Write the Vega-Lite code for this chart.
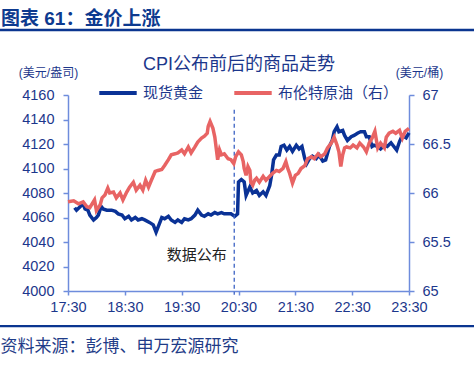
{
  "$schema": "https://vega.github.io/schema/vega-lite/v6.json",
  "width": 341,
  "height": 196,
  "autosize": {"type": "none"},
  "padding": {"left": 68, "top": 95, "right": 65, "bottom": 74},
  "background": "white",
  "config": {
    "view": {"stroke": null},
    "font": "Liberation Sans, Noto Sans CJK SC",
    "axis": {"grid": false}
  },
  "title": {
    "text": "图表 61：金价上涨",
    "anchor": "start",
    "frame": "group",
    "dx": -67,
    "dy": 2,
    "offset": 2,
    "fontSize": 19,
    "fontWeight": "bold",
    "color": "#0d3a8f",
    "font": "Liberation Sans, Noto Sans CJK SC"
  },
  "datasets": {
    "gold": [
      {"time": "17:37", "price": 4068}, {"time": "17:39", "price": 4066}, {"time": "17:43", "price": 4069}, {"time": "17:46", "price": 4071},
      {"time": "17:48", "price": 4067}, {"time": "17:51", "price": 4066}, {"time": "17:53", "price": 4062}, {"time": "17:57", "price": 4058},
      {"time": "18:00", "price": 4060}, {"time": "18:02", "price": 4062}, {"time": "18:05", "price": 4069}, {"time": "18:07", "price": 4067},
      {"time": "18:11", "price": 4066}, {"time": "18:16", "price": 4066}, {"time": "18:20", "price": 4065}, {"time": "18:23", "price": 4063},
      {"time": "18:27", "price": 4062}, {"time": "18:30", "price": 4059}, {"time": "18:34", "price": 4061}, {"time": "18:37", "price": 4058},
      {"time": "18:41", "price": 4060}, {"time": "18:44", "price": 4058}, {"time": "18:48", "price": 4059}, {"time": "18:51", "price": 4058},
      {"time": "18:56", "price": 4056}, {"time": "19:00", "price": 4054}, {"time": "19:03", "price": 4048}, {"time": "19:06", "price": 4054},
      {"time": "19:09", "price": 4060}, {"time": "19:12", "price": 4059}, {"time": "19:16", "price": 4061}, {"time": "19:19", "price": 4058},
      {"time": "19:23", "price": 4056}, {"time": "19:26", "price": 4058}, {"time": "19:30", "price": 4056}, {"time": "19:33", "price": 4059},
      {"time": "19:37", "price": 4058}, {"time": "19:40", "price": 4059}, {"time": "19:44", "price": 4062}, {"time": "19:47", "price": 4066},
      {"time": "19:51", "price": 4062}, {"time": "19:54", "price": 4061}, {"time": "19:58", "price": 4063}, {"time": "20:01", "price": 4062},
      {"time": "20:05", "price": 4064}, {"time": "20:08", "price": 4063}, {"time": "20:12", "price": 4064}, {"time": "20:15", "price": 4063},
      {"time": "20:19", "price": 4063}, {"time": "20:22", "price": 4063}, {"time": "20:26", "price": 4061}, {"time": "20:29", "price": 4063},
      {"time": "20:30", "price": 4089}, {"time": "20:33", "price": 4091}, {"time": "20:36", "price": 4089}, {"time": "20:38", "price": 4078},
      {"time": "20:42", "price": 4085}, {"time": "20:45", "price": 4080}, {"time": "20:49", "price": 4082}, {"time": "20:52", "price": 4078},
      {"time": "20:56", "price": 4081}, {"time": "20:59", "price": 4078}, {"time": "21:03", "price": 4086}, {"time": "21:05", "price": 4095},
      {"time": "21:07", "price": 4107}, {"time": "21:10", "price": 4111}, {"time": "21:13", "price": 4111}, {"time": "21:15", "price": 4118},
      {"time": "21:18", "price": 4119}, {"time": "21:21", "price": 4115}, {"time": "21:24", "price": 4118}, {"time": "21:27", "price": 4114},
      {"time": "21:31", "price": 4119}, {"time": "21:34", "price": 4116}, {"time": "21:37", "price": 4118}, {"time": "21:40", "price": 4108},
      {"time": "21:42", "price": 4104}, {"time": "21:45", "price": 4108}, {"time": "21:48", "price": 4110}, {"time": "21:52", "price": 4108},
      {"time": "21:55", "price": 4111}, {"time": "21:59", "price": 4106}, {"time": "22:02", "price": 4107}, {"time": "22:06", "price": 4118},
      {"time": "22:09", "price": 4123}, {"time": "22:11", "price": 4130}, {"time": "22:14", "price": 4134}, {"time": "22:16", "price": 4130},
      {"time": "22:20", "price": 4131}, {"time": "22:22", "price": 4127}, {"time": "22:25", "price": 4123}, {"time": "22:29", "price": 4126},
      {"time": "22:32", "price": 4127}, {"time": "22:36", "price": 4129}, {"time": "22:39", "price": 4130}, {"time": "22:43", "price": 4130},
      {"time": "22:45", "price": 4126}, {"time": "22:48", "price": 4126}, {"time": "22:51", "price": 4118}, {"time": "22:53", "price": 4119},
      {"time": "22:57", "price": 4118}, {"time": "23:00", "price": 4116}, {"time": "23:04", "price": 4119}, {"time": "23:07", "price": 4118},
      {"time": "23:11", "price": 4121}, {"time": "23:14", "price": 4118}, {"time": "23:17", "price": 4115}, {"time": "23:20", "price": 4122},
      {"time": "23:23", "price": 4127}, {"time": "23:27", "price": 4125}, {"time": "23:30", "price": 4129}
    ],
    "oil": [
      {"time": "17:30", "price": 65.91}, {"time": "17:36", "price": 65.92}, {"time": "17:41", "price": 65.89}, {"time": "17:46", "price": 65.91},
      {"time": "17:50", "price": 65.86}, {"time": "17:53", "price": 65.85}, {"time": "17:58", "price": 65.93}, {"time": "18:00", "price": 65.82},
      {"time": "18:04", "price": 65.88}, {"time": "18:06", "price": 65.95}, {"time": "18:09", "price": 65.98}, {"time": "18:12", "price": 66.05},
      {"time": "18:14", "price": 66.0}, {"time": "18:18", "price": 66.01}, {"time": "18:21", "price": 65.95}, {"time": "18:25", "price": 66.0},
      {"time": "18:28", "price": 65.93}, {"time": "18:32", "price": 66.01}, {"time": "18:35", "price": 66.06}, {"time": "18:39", "price": 66.11},
      {"time": "18:42", "price": 66.03}, {"time": "18:46", "price": 66.08}, {"time": "18:49", "price": 66.03}, {"time": "18:52", "price": 66.13},
      {"time": "18:55", "price": 66.06}, {"time": "18:58", "price": 66.13}, {"time": "19:02", "price": 66.22}, {"time": "19:05", "price": 66.23},
      {"time": "19:09", "price": 66.24}, {"time": "19:12", "price": 66.28}, {"time": "19:16", "price": 66.34}, {"time": "19:19", "price": 66.39},
      {"time": "19:23", "price": 66.4}, {"time": "19:26", "price": 66.41}, {"time": "19:30", "price": 66.44}, {"time": "19:33", "price": 66.4},
      {"time": "19:37", "price": 66.47}, {"time": "19:40", "price": 66.41}, {"time": "19:44", "price": 66.47}, {"time": "19:47", "price": 66.52},
      {"time": "19:51", "price": 66.56}, {"time": "19:54", "price": 66.58}, {"time": "19:57", "price": 66.61}, {"time": "19:58", "price": 66.68},
      {"time": "20:00", "price": 66.73}, {"time": "20:03", "price": 66.66}, {"time": "20:05", "price": 66.57}, {"time": "20:08", "price": 66.34},
      {"time": "20:10", "price": 66.44}, {"time": "20:12", "price": 66.39}, {"time": "20:15", "price": 66.4}, {"time": "20:19", "price": 66.35},
      {"time": "20:22", "price": 66.34}, {"time": "20:25", "price": 66.3}, {"time": "20:27", "price": 66.37}, {"time": "20:30", "price": 66.42},
      {"time": "20:33", "price": 66.39}, {"time": "20:35", "price": 66.32}, {"time": "20:36", "price": 66.25}, {"time": "20:38", "price": 66.18},
      {"time": "20:40", "price": 66.27}, {"time": "20:42", "price": 66.23}, {"time": "20:43", "price": 66.11}, {"time": "20:45", "price": 66.08},
      {"time": "20:47", "price": 66.13}, {"time": "20:49", "price": 66.15}, {"time": "20:52", "price": 66.11}, {"time": "20:56", "price": 66.17},
      {"time": "20:59", "price": 66.13}, {"time": "21:03", "price": 66.17}, {"time": "21:06", "price": 66.2}, {"time": "21:10", "price": 66.23},
      {"time": "21:13", "price": 66.22}, {"time": "21:17", "price": 66.25}, {"time": "21:20", "price": 66.32}, {"time": "21:22", "price": 66.25},
      {"time": "21:24", "price": 66.2}, {"time": "21:27", "price": 66.1}, {"time": "21:30", "price": 66.18}, {"time": "21:33", "price": 66.2},
      {"time": "21:36", "price": 66.25}, {"time": "21:40", "price": 66.28}, {"time": "21:43", "price": 66.35}, {"time": "21:47", "price": 66.37},
      {"time": "21:50", "price": 66.35}, {"time": "21:54", "price": 66.4}, {"time": "21:57", "price": 66.37}, {"time": "22:01", "price": 66.4},
      {"time": "22:04", "price": 66.46}, {"time": "22:08", "price": 66.51}, {"time": "22:11", "price": 66.57}, {"time": "22:14", "price": 66.49},
      {"time": "22:16", "price": 66.42}, {"time": "22:18", "price": 66.27}, {"time": "22:20", "price": 66.39}, {"time": "22:22", "price": 66.46},
      {"time": "22:24", "price": 66.47}, {"time": "22:28", "price": 66.46}, {"time": "22:31", "price": 66.49}, {"time": "22:35", "price": 66.46},
      {"time": "22:38", "price": 66.51}, {"time": "22:42", "price": 66.47}, {"time": "22:45", "price": 66.42}, {"time": "22:48", "price": 66.51},
      {"time": "22:51", "price": 66.56}, {"time": "22:54", "price": 66.63}, {"time": "22:57", "price": 66.46}, {"time": "23:00", "price": 66.51},
      {"time": "23:04", "price": 66.46}, {"time": "23:06", "price": 66.57}, {"time": "23:09", "price": 66.61}, {"time": "23:13", "price": 66.63},
      {"time": "23:16", "price": 66.61}, {"time": "23:20", "price": 66.64}, {"time": "23:23", "price": 66.56}, {"time": "23:26", "price": 66.63},
      {"time": "23:30", "price": 66.66}
    ]
  },
  "layer": [
    {
      "layer": [
        {
          "data": {"name": "gold", "format": {"parse": {"time": "date:'%H:%M'"}}},
          "mark": {"type": "line", "strokeWidth": 3.5, "clip": false},
          "encoding": {
            "x": {
              "field": "time",
              "type": "temporal",
              "scale": {"domain": [
                {"year": 1900, "month": 1, "date": 1, "hours": 17, "minutes": 30},
                {"year": 1900, "month": 1, "date": 1, "hours": 23, "minutes": 30}
              ]},
              "axis": {
                "orient": "bottom",
                "values": [
                  {"year": 1900, "month": 1, "date": 1, "hours": 17, "minutes": 30},
                  {"year": 1900, "month": 1, "date": 1, "hours": 18, "minutes": 30},
                  {"year": 1900, "month": 1, "date": 1, "hours": 19, "minutes": 30},
                  {"year": 1900, "month": 1, "date": 1, "hours": 20, "minutes": 30},
                  {"year": 1900, "month": 1, "date": 1, "hours": 21, "minutes": 30},
                  {"year": 1900, "month": 1, "date": 1, "hours": 22, "minutes": 30},
                  {"year": 1900, "month": 1, "date": 1, "hours": 23, "minutes": 30}
                ],
                "format": "%H:%M",
                "labelFlush": false,
                "labelOverlap": false,
                "labelFontSize": 14.5,
                "labelColor": "#1c378c",
                "labelPadding": 5,
                "domainColor": "#6e8cdc",
                "domainWidth": 1.5,
                "tickColor": "#6e8cdc",
                "tickWidth": 1.5,
                "tickSize": 4,
                "title": "资料来源：彭博、申万宏源研究",
                "titleX": -68,
                "titleY": 55,
                "titleAlign": "left",
                "titleBaseline": "middle",
                "titleFontSize": 17,
                "titleFontWeight": "normal",
                "titleColor": "#1f3c88"
              }
            },
            "y": {
              "field": "price",
              "type": "quantitative",
              "scale": {"domain": [4000, 4160]},
              "axis": {
                "orient": "left",
                "values": [4000, 4020, 4040, 4060, 4080, 4100, 4120, 4140, 4160],
                "format": "d",
                "labelOverlap": false,
                "labelFontSize": 14.5,
                "labelColor": "#1c378c",
                "labelPadding": 9,
                "domainColor": "#6e8cdc",
                "domainWidth": 1.5,
                "tickColor": "#6e8cdc",
                "tickWidth": 1.5,
                "tickSize": 5,
                "title": "(美元/盎司)",
                "titleAngle": 0,
                "titleX": -20,
                "titleY": -23,
                "titleAlign": "center",
                "titleBaseline": "middle",
                "titleFontSize": 12,
                "titleFontWeight": "normal",
                "titleColor": "#1c378c"
              }
            },
            "color": {
              "datum": "现货黄金",
              "type": "nominal",
              "scale": {"domain": ["现货黄金", "布伦特原油（右）"], "range": ["#0a3296", "#e86464"]},
              "legend": {
                "orient": "none",
                "legendX": 29,
                "legendY": -23,
                "direction": "horizontal",
                "title": null,
                "padding": 0,
                "labelFontSize": 15,
                "labelColor": "#1c378c",
                "labelOffset": 4,
                "columnPadding": 22,
                "symbolType": "stroke",
                "symbolSize": 1400,
                "symbolStrokeWidth": 4
              }
            }
          }
        },
        {
          "data": {"values": [{}]},
          "mark": {"type": "rule", "color": "#3d63c4", "strokeWidth": 1.3, "strokeDash": [4, 3], "clip": false},
          "encoding": {
            "x": {"datum": {"year": 1900, "month": 1, "date": 1, "hours": 20, "minutes": 25, "seconds": 30}, "type": "temporal"},
            "y": {
              "datum": 4148,
              "type": "quantitative",
              "axis": {
                "orient": "left",
                "values": [4000, 4020, 4040, 4060, 4080, 4100, 4120, 4140, 4160],
                "format": "d",
                "labelOverlap": false,
                "labelFontSize": 14.5,
                "labelColor": "#1c378c",
                "labelPadding": 9,
                "domainColor": "#6e8cdc",
                "domainWidth": 1.5,
                "tickColor": "#6e8cdc",
                "tickWidth": 1.5,
                "tickSize": 5,
                "title": "(美元/盎司)",
                "titleAngle": 0,
                "titleX": -20,
                "titleY": -23,
                "titleAlign": "center",
                "titleBaseline": "middle",
                "titleFontSize": 12,
                "titleFontWeight": "normal",
                "titleColor": "#1c378c"
              }
            },
            "y2": {"datum": 3997}
          }
        },
        {
          "data": {"values": [{"label": "数据公布"}]},
          "mark": {"type": "text", "fontSize": 15, "color": "#222222", "font": "Liberation Sans, Noto Sans CJK SC"},
          "encoding": {
            "x": {"datum": {"year": 1900, "month": 1, "date": 1, "hours": 19, "minutes": 46}, "type": "temporal"},
            "y": {
              "datum": 4029,
              "type": "quantitative",
              "axis": {
                "orient": "left",
                "values": [4000, 4020, 4040, 4060, 4080, 4100, 4120, 4140, 4160],
                "format": "d",
                "labelOverlap": false,
                "labelFontSize": 14.5,
                "labelColor": "#1c378c",
                "labelPadding": 9,
                "domainColor": "#6e8cdc",
                "domainWidth": 1.5,
                "tickColor": "#6e8cdc",
                "tickWidth": 1.5,
                "tickSize": 5,
                "title": "(美元/盎司)",
                "titleAngle": 0,
                "titleX": -20,
                "titleY": -23,
                "titleAlign": "center",
                "titleBaseline": "middle",
                "titleFontSize": 12,
                "titleFontWeight": "normal",
                "titleColor": "#1c378c"
              }
            },
            "text": {"field": "label"}
          }
        },
        {
          "data": {"values": [{}]},
          "mark": {"type": "rule", "color": "#0a3590", "strokeWidth": 2.6, "clip": false},
          "encoding": {
            "x": {"datum": {"year": 1900, "month": 1, "date": 1, "hours": 16, "minutes": 0}, "type": "temporal"},
            "x2": {"datum": {"year": 1900, "month": 1, "date": 2, "hours": 1, "minutes": 0}},
            "y": {
              "datum": 4213,
              "type": "quantitative",
              "axis": {
                "orient": "left",
                "values": [4000, 4020, 4040, 4060, 4080, 4100, 4120, 4140, 4160],
                "format": "d",
                "labelOverlap": false,
                "labelFontSize": 14.5,
                "labelColor": "#1c378c",
                "labelPadding": 9,
                "domainColor": "#6e8cdc",
                "domainWidth": 1.5,
                "tickColor": "#6e8cdc",
                "tickWidth": 1.5,
                "tickSize": 5,
                "title": "(美元/盎司)",
                "titleAngle": 0,
                "titleX": -20,
                "titleY": -23,
                "titleAlign": "center",
                "titleBaseline": "middle",
                "titleFontSize": 12,
                "titleFontWeight": "normal",
                "titleColor": "#1c378c"
              }
            }
          }
        },
        {
          "data": {"values": [{}]},
          "mark": {"type": "rule", "color": "#0a3590", "strokeWidth": 2.4, "clip": false},
          "encoding": {
            "x": {"datum": {"year": 1900, "month": 1, "date": 1, "hours": 16, "minutes": 0}, "type": "temporal"},
            "x2": {"datum": {"year": 1900, "month": 1, "date": 2, "hours": 1, "minutes": 0}},
            "y": {
              "datum": 3971.3,
              "type": "quantitative",
              "axis": {
                "orient": "left",
                "values": [4000, 4020, 4040, 4060, 4080, 4100, 4120, 4140, 4160],
                "format": "d",
                "labelOverlap": false,
                "labelFontSize": 14.5,
                "labelColor": "#1c378c",
                "labelPadding": 9,
                "domainColor": "#6e8cdc",
                "domainWidth": 1.5,
                "tickColor": "#6e8cdc",
                "tickWidth": 1.5,
                "tickSize": 5,
                "title": "(美元/盎司)",
                "titleAngle": 0,
                "titleX": -20,
                "titleY": -23,
                "titleAlign": "center",
                "titleBaseline": "middle",
                "titleFontSize": 12,
                "titleFontWeight": "normal",
                "titleColor": "#1c378c"
              }
            }
          }
        }
      ]
    },
    {
      "data": {"name": "oil", "format": {"parse": {"time": "date:'%H:%M'"}}},
      "mark": {"type": "line", "strokeWidth": 3.5, "clip": false},
      "encoding": {
        "x": {
          "field": "time",
          "type": "temporal",
          "axis": {
            "orient": "top",
            "domain": false,
            "ticks": false,
            "labels": false,
            "title": "CPI公布前后的商品走势",
            "titleY": -31,
            "titleBaseline": "middle",
            "titleFontSize": 18,
            "titleFontWeight": "normal",
            "titleColor": "#1c378c"
          }
        },
        "y": {
          "field": "price",
          "type": "quantitative",
          "scale": {"domain": [65, 67]},
          "axis": {
            "orient": "right",
            "values": [65, 65.5, 66, 66.5, 67],
            "format": ".1~f",
            "labelFontSize": 14.5,
            "labelColor": "#1c378c",
            "labelPadding": 8,
            "domainColor": "#6e8cdc",
            "domainWidth": 1.5,
            "tickColor": "#6e8cdc",
            "tickWidth": 1.5,
            "tickSize": 5,
            "title": "(美元/桶)",
            "titleAngle": 0,
            "titleX": 10,
            "titleY": -23,
            "titleAlign": "center",
            "titleBaseline": "middle",
            "titleFontSize": 12,
            "titleFontWeight": "normal",
            "titleColor": "#1c378c"
          }
        },
        "color": {"datum": "布伦特原油（右）", "type": "nominal"}
      }
    }
  ],
  "resolve": {"scale": {"y": "independent"}, "axis": {"x": "independent"}}
}
